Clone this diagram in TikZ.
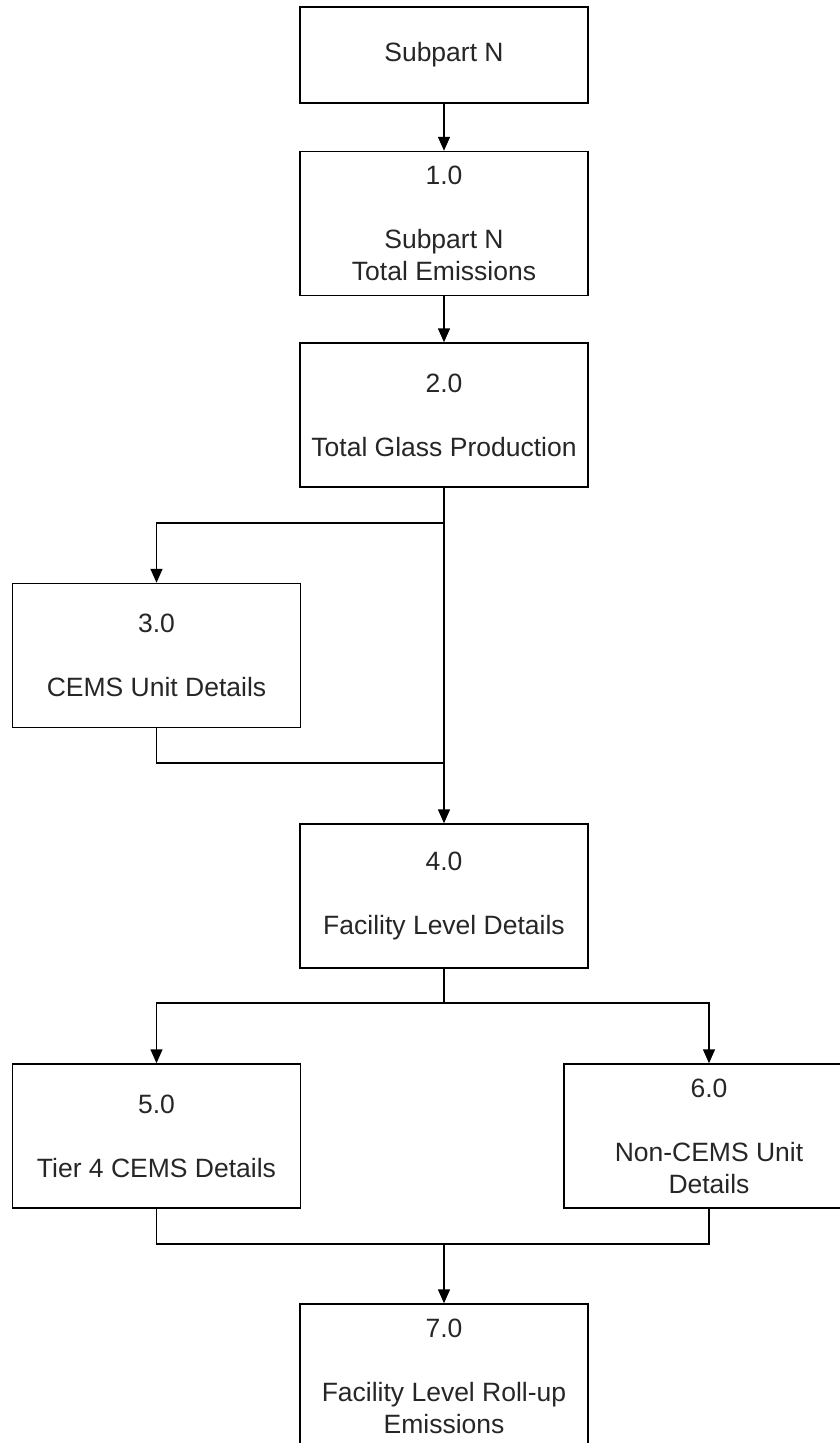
\documentclass[tikz,border=0pt]{standalone}
\usepackage{fontspec}
\setmainfont{Liberation Sans}
\usepackage{tikz}
\usetikzlibrary{arrows.meta}

\begin{document}
\begin{tikzpicture}[x=1pt,y=-1pt,
    box/.style={draw,line width=1.5pt,minimum width=288pt,minimum height=144pt,inner sep=0pt,
      align=center,text=black!85,font=\fontsize{26.5}{32}\selectfont},
    flow/.style={line width=1.5pt,-{Triangle[width=12pt,length=14pt]}},
    link/.style={line width=1.5pt}]
          \path[use as bounding box,clip] (0,0) rectangle (840,1443);
          \node[box,minimum height=96pt] (sub) at (444,55) {Subpart N};
          \node[box] (b1) at (444,223.5) {1.0\\[32pt]Subpart N\\Total Emissions};
          \node[box] (b2) at (444,415) {2.0\\[32pt]Total Glass Production};
          \node[box] (b3) at (156.5,655.5) {3.0\\[32pt]CEMS Unit Details};
          \node[box] (b4) at (444,896) {4.0\\[32pt]Facility Level Details};
          \node[box] (b5) at (156.5,1136) {5.0\\[32pt]Tier 4 CEMS Details};
          \node[box,minimum width=290pt] (b6) at (709,1136) {6.0\\[32pt]Non-CEMS Unit\\Details};
          \node[box,minimum height=145pt] (b7) at (444,1376.5) {7.0\\[32pt]Facility Level Roll-up\\Emissions};
          \coordinate (s2) at (444,523);
          \coordinate (m3) at (444,763);
          \coordinate (s4) at (444,1003);
          \coordinate (m7) at (444,1244);
          \draw[flow] (sub) -- (b1);
          \draw[flow] (b1) -- (b2);
          \draw[flow] (b2) -- (b4);
          \draw[flow] (s2) -| (b3);
          \draw[link] (b3) |- (m3);
          \draw[link] (b4) -- (s4);
          \draw[flow] (s4) -| (b5);
          \draw[flow] (s4) -| (b6);
          \draw[link] (b5) |- (m7) -| (b6);
          \draw[flow] (m7) -- (b7);
        \end{tikzpicture}
\end{document}
